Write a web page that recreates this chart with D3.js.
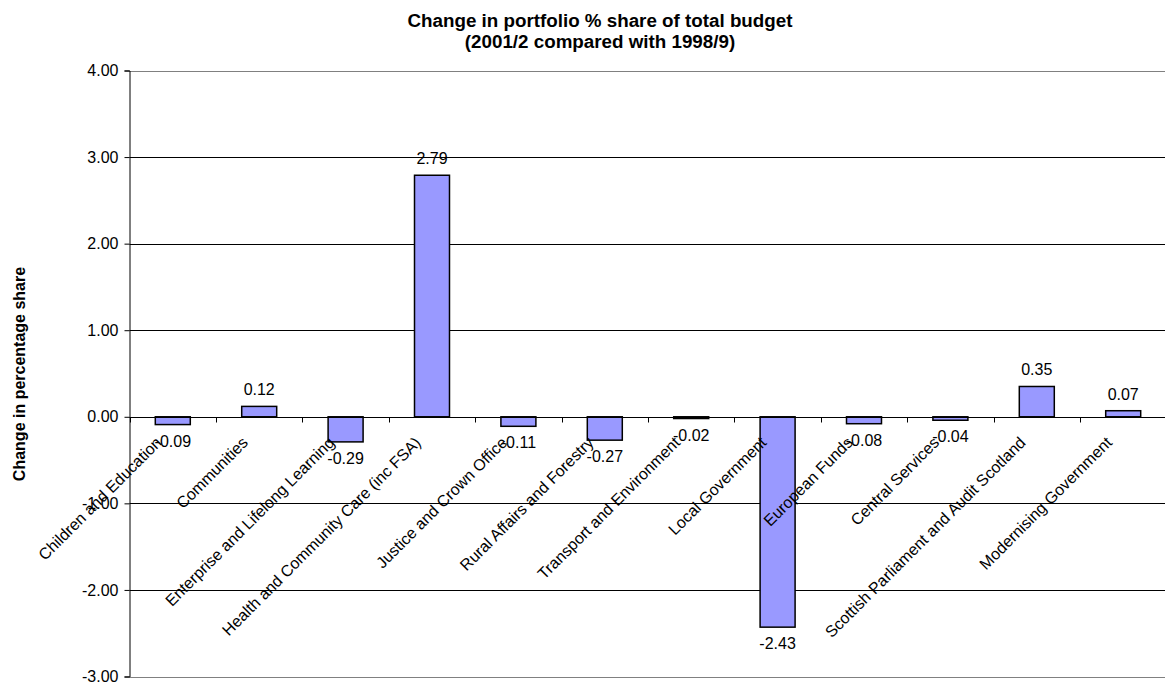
<!DOCTYPE html>
<html>
<head>
<meta charset="utf-8">
<script src="https://cdn.jsdelivr.net/npm/d3@7"></script>
<style>
  html, body { margin: 0; padding: 0; background: #fff; }
  svg { display: block; font-family: "Liberation Sans", Arial, sans-serif; }
</style>
</head>
<body>
<svg id="chart" width="1165" height="687"></svg>
<script>
// Portfolios and their change in % share of the total budget
const categories = [
  "Children and Education",
  "Communities",
  "Enterprise and Lifelong Learning",
  "Health and Community Care (inc FSA)",
  "Justice and Crown Office",
  "Rural Affairs and Forestry",
  "Transport and Environment",
  "Local Government",
  "European Funds",
  "Central Services",
  "Scottish Parliament and Audit Scotland",
  "Modernising Government"
];
const values = [-0.09, 0.12, -0.29, 2.79, -0.11, -0.27, -0.02, -2.43, -0.08, -0.04, 0.35, 0.07];
const yTicks = [-3, -2, -1, 0, 1, 2, 3, 4];
const titleLines = ["Change in portfolio % share of total budget", "(2001/2 compared with 1998/9)"];
const yTitle = "Change in percentage share";

// Two decimals, plain hyphen for negatives
const fmt = d => d3.format(".2f")(d).replace("\u2212", "-");

const svg = d3.select("#chart");
const plot = { left: 129.6, right: 1166.4, top: 70.5, bottom: 676.5 };

const x = d3.scaleBand()
  .domain(categories)
  .range([plot.left, plot.right])
  .paddingInner(0.595)
  .paddingOuter(0.2975);
const step = x.step();

const y = d3.scaleLinear().domain([-3, 4]).range([plot.bottom, plot.top]);

// Horizontal gridlines (top and bottom ones form the grey plot border)
svg.append("g").selectAll("line")
  .data(yTicks)
  .join("line")
  .attr("x1", plot.left).attr("x2", plot.right)
  .attr("y1", d => Math.round(y(d)) + 0.5).attr("y2", d => Math.round(y(d)) + 0.5)
  .attr("stroke", d => (d === 4 || d === -3) ? "#808080" : "#000")
  .attr("stroke-width", 1);

// Value axis
const yAxis = d3.axisLeft(y)
  .tickValues(yTicks)
  .tickFormat(fmt)
  .tickSize(5)
  .tickPadding(6);
const gy = svg.append("g")
  .attr("transform", `translate(${Math.round(plot.left) - 0.5},0)`)
  .call(yAxis);
gy.select(".domain").attr("stroke", "#000");
gy.selectAll(".tick line").attr("stroke", "#000");
gy.selectAll(".tick text")
  .attr("font-size", 16)
  .attr("font-family", "Liberation Sans, Arial, sans-serif")
  .attr("fill", "#000");

// Bars
svg.append("g").selectAll("rect")
  .data(values)
  .join("rect")
  .attr("x", (d, i) => x(categories[i]))
  .attr("width", x.bandwidth())
  .attr("y", d => y(Math.max(0, d)))
  .attr("height", d => Math.abs(y(d) - y(0)))
  .attr("fill", "#9999FF")
  .attr("stroke", "#000")
  .attr("stroke-width", 1.5);

// Zero line with category ticks
const y0 = Math.round(y(0)) + 0.5;
svg.append("line")
  .attr("x1", plot.left).attr("x2", plot.right)
  .attr("y1", y0).attr("y2", y0)
  .attr("stroke", "#000");
svg.append("g").selectAll("line")
  .data(d3.range(categories.length + 1))
  .join("line")
  .attr("x1", i => Math.round(plot.left + i * step) + 0.5)
  .attr("x2", i => Math.round(plot.left + i * step) + 0.5)
  .attr("y1", y0).attr("y2", y0 + 5)
  .attr("stroke", "#000");

// Value labels
svg.append("g").selectAll("text")
  .data(values)
  .join("text")
  .attr("x", (d, i) => x(categories[i]) + x.bandwidth() / 2)
  .attr("y", d => d >= 0 ? y(d) - 11 : y(d) + 22)
  .attr("text-anchor", "middle")
  .attr("font-size", 16)
  .attr("fill", "#000")
  .text(fmt);

// Category labels, rotated
svg.append("g").selectAll("text")
  .data(categories)
  .join("text")
  .attr("transform", d => `translate(${x(d) + x.bandwidth() / 2},${y0 + 8}) rotate(-45)`)
  .attr("text-anchor", "end")
  .attr("dx", -20)
  .attr("dy", "0.35em")
  .attr("font-size", 16)
  .attr("fill", "#000")
  .text(d => d);

// Title
svg.append("g").selectAll("text")
  .data(titleLines)
  .join("text")
  .attr("x", 600)
  .attr("y", (d, i) => 27 + i * 21)
  .attr("text-anchor", "middle")
  .attr("font-size", 18.8)
  .attr("font-weight", "bold")
  .attr("fill", "#000")
  .text(d => d);

// Value axis title
svg.append("text")
  .attr("transform", "translate(25,374) rotate(-90)")
  .attr("text-anchor", "middle")
  .attr("font-size", 16)
  .attr("font-weight", "bold")
  .attr("fill", "#000")
  .text(yTitle);
</script>
</body>
</html>
